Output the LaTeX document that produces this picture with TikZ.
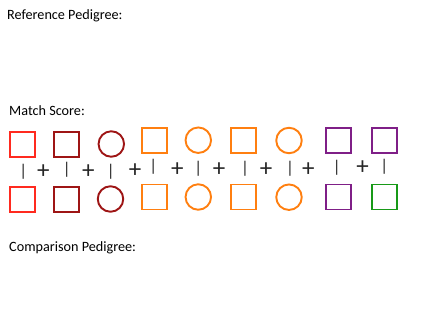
\documentclass[tikz,border=0pt]{standalone}
\usepackage{fontspec}
\setmainfont{Carlito}
\definecolor{cRed}{HTML}{FF2A1F}
\definecolor{cDark}{HTML}{9E1515}
\definecolor{cOrange}{HTML}{FF7F10}
\definecolor{cPurple}{HTML}{7F1F87}
\definecolor{cGreen}{HTML}{189A18}
\begin{document}
\begin{tikzpicture}[x=1pt,y=-1pt,
  sq/.style={draw=#1,line width=1.9pt,minimum size=25pt,inner sep=0pt,shape=rectangle},
  circ/.style={draw=#1,line width=1.9pt,minimum size=25.5pt,inner sep=0pt,shape=circle},
  sep/.style={inner sep=0pt,font=\fontsize{17}{17}\selectfont,text=black!85},
  plus/.style={inner sep=0pt,font=\fontsize{25}{25}\selectfont,text=black!85},
  lbl/.style={inner sep=0pt,anchor=base west,font=\fontsize{14.2}{16}\selectfont}]
\useasboundingbox (0,0) rectangle (423,317);
\node[lbl] (ref) at (7,19) {Reference Pedigree:};
\node[lbl] (ms) at (9,115) {Match Score:};
\node[lbl] (cmp) at (9,251) {Comparison Pedigree:};
% top row
\node[sq=cRed] (t1) at (22.7,144.2) {};
\node[sq=cDark] (t2) at (66.3,144.2) {};
\node[circ=cDark] (t3) at (111.3,144) {};
\node[sq=cOrange] (t4) at (154.7,140.3) {};
\node[circ=cOrange] (t5) at (198.3,140.2) {};
\node[sq=cOrange] (t6) at (243.7,140.3) {};
\node[circ=cOrange] (t7) at (289,140.5) {};
\node[sq=cPurple] (t8) at (338.3,140.3) {};
\node[sq=cPurple] (t9) at (384.2,140.3) {};
% bottom row
\node[sq=cRed] (b1) at (22.7,199.2) {};
\node[sq=cDark] (b2) at (66.3,199.2) {};
\node[circ=cDark] (b3) at (110.5,199) {};
\node[sq=cOrange] (b4) at (154.7,197) {};
\node[circ=cOrange] (b5) at (198.3,197) {};
\node[sq=cOrange] (b6) at (243.7,197) {};
\node[circ=cOrange] (b7) at (289,197.2) {};
\node[sq=cPurple] (b8) at (338.3,197) {};
\node[sq=cGreen] (b9) at (384.2,197) {};
% separators
\node[sep] (v1) at (23.3,171.5) {|};
\node[sep] (v2) at (66.7,170) {|};
\node[sep] (v3) at (110.7,171.5) {|};
\node[sep] (v4) at (153.3,167) {|};
\node[sep] (v5) at (198.3,168.5) {|};
\node[sep] (v6) at (245,169) {|};
\node[sep] (v7) at (290,168.5) {|};
\node[sep] (v8) at (336.7,168) {|};
\node[sep] (v9) at (384.3,166.5) {|};
\node[plus] (p1) at (43.3,171.7) {+};
\node[plus] (p2) at (88.3,172) {+};
\node[plus] (p3) at (135,171) {+};
\node[plus] (p4) at (177.3,170) {+};
\node[plus] (p5) at (219,170) {+};
\node[plus] (p6) at (266,170) {+};
\node[plus] (p7) at (308.3,169.3) {+};
\node[plus] (p8) at (362.7,167.7) {+};
\end{tikzpicture}
\end{document}
